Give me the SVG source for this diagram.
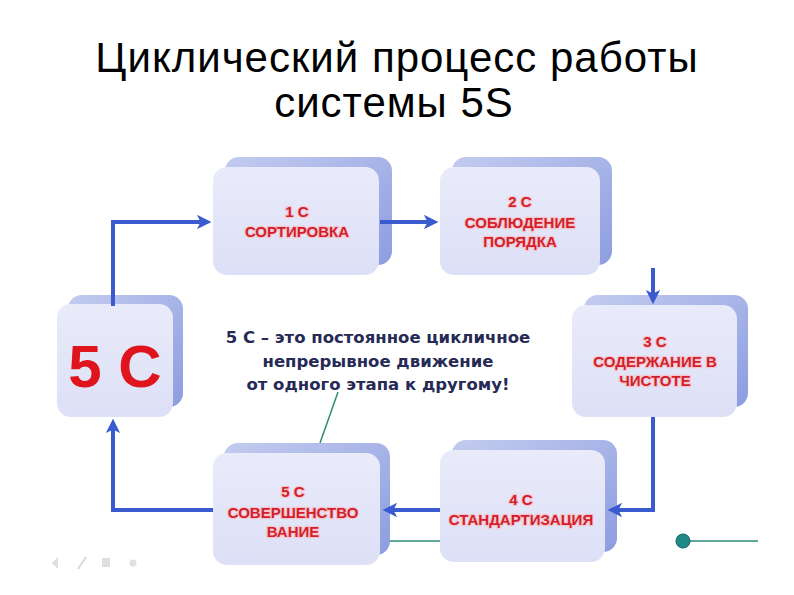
<svg xmlns="http://www.w3.org/2000/svg" width="794" height="595" viewBox="0 0 794 595">
<defs>
<style>
.title{font-family:"Liberation Sans",Arial,sans-serif;font-size:42px;letter-spacing:1px;fill:#000;text-anchor:middle}
.lbl{font-family:"Liberation Sans",Arial,sans-serif;font-size:15px;font-weight:bold;fill:#d21f2b;text-anchor:middle;stroke:#f4c6cf;stroke-width:2.5px;paint-order:stroke;stroke-linejoin:round}
.big{font-family:"Liberation Sans",Arial,sans-serif;font-size:60px;font-weight:bold;fill:#e0141c;text-anchor:middle}
.note{font-family:"DejaVu Sans",Verdana,sans-serif;font-size:16.5px;font-weight:bold;fill:#262a55;text-anchor:middle}
.back{fill:url(#gback)}
.front{fill:url(#gfront)}
.arr{fill:none;stroke:#3a5bd0;stroke-width:4;marker-end:url(#ah)}
.grn{fill:none;stroke:#2f8a78;stroke-width:1.5}
</style>
<linearGradient id="gback" x1="0" y1="0" x2="1" y2="1">
<stop offset="0" stop-color="#c3cbef"/>
<stop offset="1" stop-color="#8c9de0"/>
</linearGradient>
<linearGradient id="gfront" x1="0" y1="0" x2="0" y2="1">
<stop offset="0" stop-color="#e9ebfa"/>
<stop offset="1" stop-color="#dde0f6"/>
</linearGradient>
<marker id="ah" viewBox="0 0 10 10" refX="7" refY="5" markerWidth="3.6" markerHeight="3.6" orient="auto" markerUnits="strokeWidth">
<path d="M0,0 L10,5 L0,10 L2.5,5 z" fill="#3a5bd0"/>
</marker>
</defs>
<rect width="794" height="595" fill="#fff"/>
<text class="title" x="397" y="72">Циклический процесс работы</text>
<text class="title" x="394" y="117">системы 5S</text>

<g id="n5c">
<rect class="back" x="68" y="295" width="115" height="112" rx="14"/>
<rect class="front" x="57" y="304" width="116" height="113" rx="14"/>
<text class="big" x="115" y="387">5 С</text>
</g>

<g id="n1">
<rect class="back" x="225" y="157" width="167" height="108" rx="14"/>
<rect class="front" x="213" y="167" width="166" height="108" rx="14"/>
<text class="lbl" x="297" y="217">1 С</text>
<text class="lbl" x="297" y="237">СОРТИРОВКА</text>
</g>

<g id="n2">
<rect class="back" x="452" y="157" width="160" height="108" rx="14"/>
<rect class="front" x="440" y="167" width="160" height="108" rx="14"/>
<text class="lbl" x="520" y="207">2 С</text>
<text class="lbl" x="520" y="228">СОБЛЮДЕНИЕ</text>
<text class="lbl" x="520" y="247">ПОРЯДКА</text>
</g>

<g id="n3">
<rect class="back" x="584" y="295" width="164" height="112" rx="14"/>
<rect class="front" x="572" y="305" width="165" height="112" rx="14"/>
<text class="lbl" x="655" y="347">3 С</text>
<text class="lbl" x="655" y="367">СОДЕРЖАНИЕ В</text>
<text class="lbl" x="655" y="386">ЧИСТОТЕ</text>
</g>

<g id="n4">
<rect class="back" x="452" y="440" width="165" height="112" rx="14"/>
<rect class="front" x="440" y="450" width="165" height="112" rx="14"/>
<text class="lbl" x="521" y="505">4 С</text>
<text class="lbl" x="521" y="525">СТАНДАРТИЗАЦИЯ</text>
</g>

<g id="n5">
<rect class="back" x="224" y="443" width="166" height="112" rx="14"/>
<rect class="front" x="213" y="453" width="167" height="112" rx="14"/>
<text class="lbl" x="293" y="497">5 С</text>
<text class="lbl" x="293" y="518">СОВЕРШЕНСТВО</text>
<text class="lbl" x="293" y="537">ВАНИЕ</text>
</g>

<g id="connectors">
<path class="arr" d="M113 306 V222 H207"/>
<path class="arr" d="M380 222 H434"/>
<path class="arr" d="M653 268 V300"/>
<path class="arr" d="M653 417 V510 H612"/>
<path class="arr" d="M440 510 H387"/>
<path class="arr" d="M213 510 H113 V423"/>
<path class="grn" d="M338 392 L320 443"/>
<path class="grn" d="M390 541 H440"/>
<path class="grn" d="M683 541 H758"/>
<circle cx="683" cy="541" r="7" fill="#1f8a86" stroke="#13605f" stroke-width="1"/>
</g>

<g id="note">
<text class="note" x="378" y="343">5 С – это постоянное цикличное</text>
<text class="note" x="378" y="367">непрерывное движение</text>
<text class="note" x="378" y="390">от одного этапа к другому!</text>
</g>

<g id="nav" fill="#d8d8d8" opacity="0.8">
<path d="M58 557 L52 563 L58 569 z"/>
<path d="M78 569 L86 557" stroke="#d0d0d0" stroke-width="2"/>
<rect x="102" y="558" width="8" height="9"/>
<circle cx="133" cy="563" r="3.5"/>
</g>
</svg>
